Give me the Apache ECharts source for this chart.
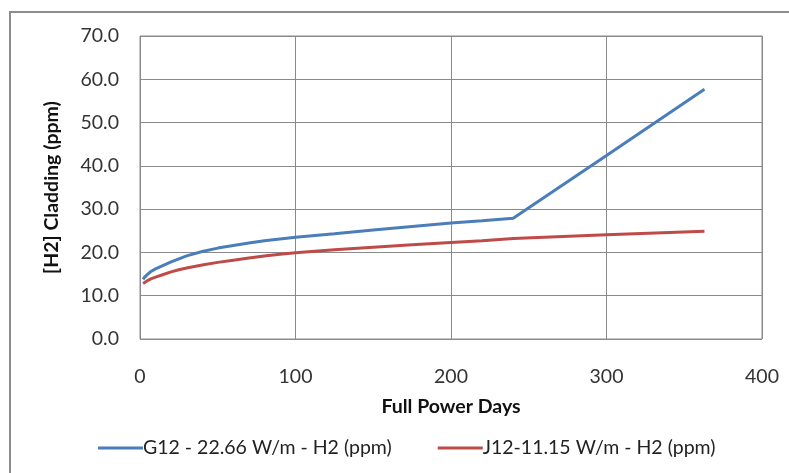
<!DOCTYPE html>
<html><head><meta charset="utf-8">
<script src="https://cdn.jsdelivr.net/npm/echarts@6/dist/echarts.min.js"></script>
<style>html,body{margin:0;padding:0;background:#fff}#c{width:789px;height:473px}</style>
</head><body><div id="c"></div>
<script>
const days = [2, 3, 5, 7, 10, 15, 20, 25, 30, 40, 50, 60, 70, 80, 90, 100, 125, 150, 175, 200, 220, 240, 300, 363];
const g12 = [13.8, 14.3, 15.0, 15.6, 16.2, 17.0, 17.8, 18.5, 19.2, 20.2, 21.0, 21.6, 22.2, 22.7, 23.1, 23.5, 24.3, 25.2, 26.0, 26.8, 27.3, 27.9, 42.4, 57.7];
const j12 = [12.8, 13.1, 13.5, 13.9, 14.3, 14.9, 15.5, 16.0, 16.4, 17.1, 17.7, 18.2, 18.7, 19.2, 19.6, 19.9, 20.6, 21.2, 21.8, 22.3, 22.7, 23.2, 24.1, 24.9];
const seriesNames = ['G12 - 22.66 W/m - H2 (ppm)', 'J12-11.15 W/m - H2 (ppm)'];
const xTitle = 'Full Power Days';
const yTitle = '[H2] Cladding (ppm)';

const font = 'Lato, "Open Sans", sans-serif';
const fs = 19.5;
const chart = echarts.init(document.getElementById('c'), null, {renderer: 'canvas'});
chart.setOption({
  animation: false,
  backgroundColor: '#fff',
  graphic: [{
    type: 'rect', shape: {x: 10, y: 12, width: 900, height: 600},
    style: {fill: 'none', stroke: '#8c8c8c', lineWidth: 2}, silent: true
  }],
  grid: {left: 140, right: 27, top: 36, bottom: 134, show: true, borderColor: '#8a8a8a', borderWidth: 1},
  legend: {
    top: 433, left: 93, itemWidth: 45, itemHeight: 3, itemGap: 46,
    icon: 'rect',
    textStyle: {fontFamily: font, fontSize: fs, color: '#222', padding: [0, 0, 0, -5]},
    data: seriesNames
  },
  xAxis: {
    type: 'value', min: 0, max: 400, interval: 100,
    name: xTitle, nameLocation: 'middle', nameGap: 58,
    nameTextStyle: {fontFamily: font, fontSize: fs, fontWeight: 'bold', color: '#111'},
    axisLine: {show: false}, axisTick: {show: false},
    axisLabel: {fontFamily: font, fontSize: fs, color: '#333', margin: 28},
    splitLine: {show: true, lineStyle: {color: '#8a8a8a', width: 1}}
  },
  yAxis: {
    type: 'value', min: 0, max: 70, interval: 10,
    name: yTitle, nameLocation: 'middle', nameGap: 78,
    nameTextStyle: {fontFamily: font, fontSize: fs, fontWeight: 'bold', color: '#111'},
    axisLine: {show: false}, axisTick: {show: false},
    axisLabel: {fontFamily: font, fontSize: fs, color: '#333', margin: 21, formatter: v => v.toFixed(1)},
    splitLine: {show: true, lineStyle: {color: '#8a8a8a', width: 1}}
  },
  series: [
    {name: seriesNames[0], type: 'line', smooth: false, showSymbol: false, symbol: 'none',
     data: days.map((d, i) => [d, g12[i]]),
     lineStyle: {color: '#4A7EBB', width: 3}, itemStyle: {color: '#4A7EBB'}},
    {name: seriesNames[1], type: 'line', smooth: false, showSymbol: false, symbol: 'none',
     data: days.map((d, i) => [d, j12[i]]),
     lineStyle: {color: '#BE4B48', width: 3}, itemStyle: {color: '#BE4B48'}}
  ]
});
</script></body></html>
